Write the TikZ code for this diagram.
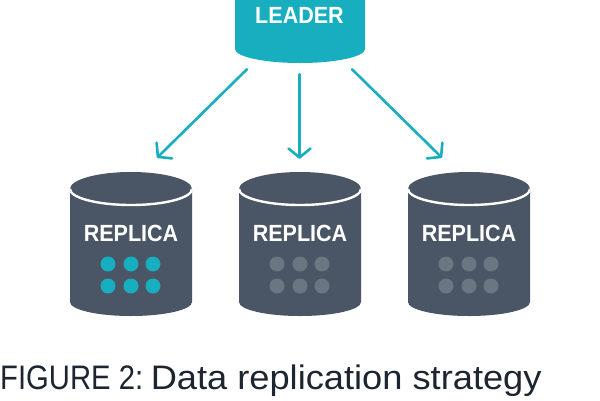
\documentclass[tikz,border=0pt]{standalone}
\usepackage{fontspec}
\setmainfont{Liberation Sans}
\newfontfamily\capa[FakeStretch=0.86]{Liberation Sans}
\newfontfamily\capb[FakeStretch=1.066]{Liberation Sans}
\newfontfamily\labelfont[FakeStretch=0.92]{Liberation Sans}
\usetikzlibrary{arrows.meta}
\definecolor{teal1}{HTML}{17AEBF}
\definecolor{slate1}{HTML}{4A5565}
\definecolor{dot1}{HTML}{6C7582}
\definecolor{ink1}{HTML}{1D2530}
\tikzset{
  x=1pt,y=-1pt,
  cylbox/.style={inner sep=0pt,minimum width=122pt,minimum height=144pt},
  cyltext/.style={text=white,font=\labelfont\fontsize{23.4}{24}\selectfont\bfseries,inner sep=0pt},
  link/.style={draw=teal1,line width=2.6pt,line cap=round,-{Straight Barb[length=9pt,width=22pt,line width=2.6pt,round]}},
  dbdot/.style={circle,inner sep=0pt,minimum size=15pt},
  replicabody/.style={fill=slate1},
  rim/.style={draw=white,line width=2.4pt}
}
\newcommand{\replicacyl}[3]{%
  \path[replicabody] (#2-61,189) -- (#2-61,302) arc[start angle=180,end angle=360,x radius=61,y radius=-14] -- (#2+61,189) arc[start angle=0,end angle=180,x radius=61,y radius=-17] -- cycle;
  \draw[rim] (#2-61,189) arc[start angle=180,end angle=360,x radius=61,y radius=-16];
  \node[cylbox] (#1) at (#2,244) {};
  \node[cyltext] (#1t) at (#2,233) {REPLICA};
  \foreach \dx/\dy [count=\i] in {-23/264,0/264,22/264,-23/286,0/286,22/286}
    \node[dbdot,fill=#3] (#1d\i) at (#2+\dx,\dy) {};
}
\begin{document}
\begin{tikzpicture}
\useasboundingbox (0,0) rectangle (600,400);
\clip (0,0) rectangle (600,400);
\fill[white] (0,0) rectangle (600,400);
\fill[teal1] (235,-5) -- (235,49) arc[start angle=180,end angle=360,x radius=65,y radius=-14] -- (365,-5) -- cycle;
\node[inner sep=0pt,minimum width=130pt,minimum height=63pt] (leader) at (300,31.5) {};
\node[cyltext] (leadert) at (299.5,15) {LEADER};
\replicacyl{r1}{131}{teal1}
\replicacyl{r2}{300}{dot1}
\replicacyl{r3}{469}{dot1}
\draw[link] ([shift={(-53,6)}]leader.south) -- ([shift={(26,-14)}]r1.north);
\draw[link] ([shift={(-0.5,11)}]leader.south) -- ([shift={(-0.5,-13)}]r2.north);
\draw[link] ([shift={(52,6)}]leader.south) -- ([shift={(-27,-14)}]r3.north);
\node[anchor=base west,inner sep=0pt,text=ink1,font=\fontsize{34}{35}\selectfont] (cap) at (0,389) {{\capa FIGURE 2:} \kern-5pt{\capb Data replication strategy}};
\end{tikzpicture}
\end{document}
